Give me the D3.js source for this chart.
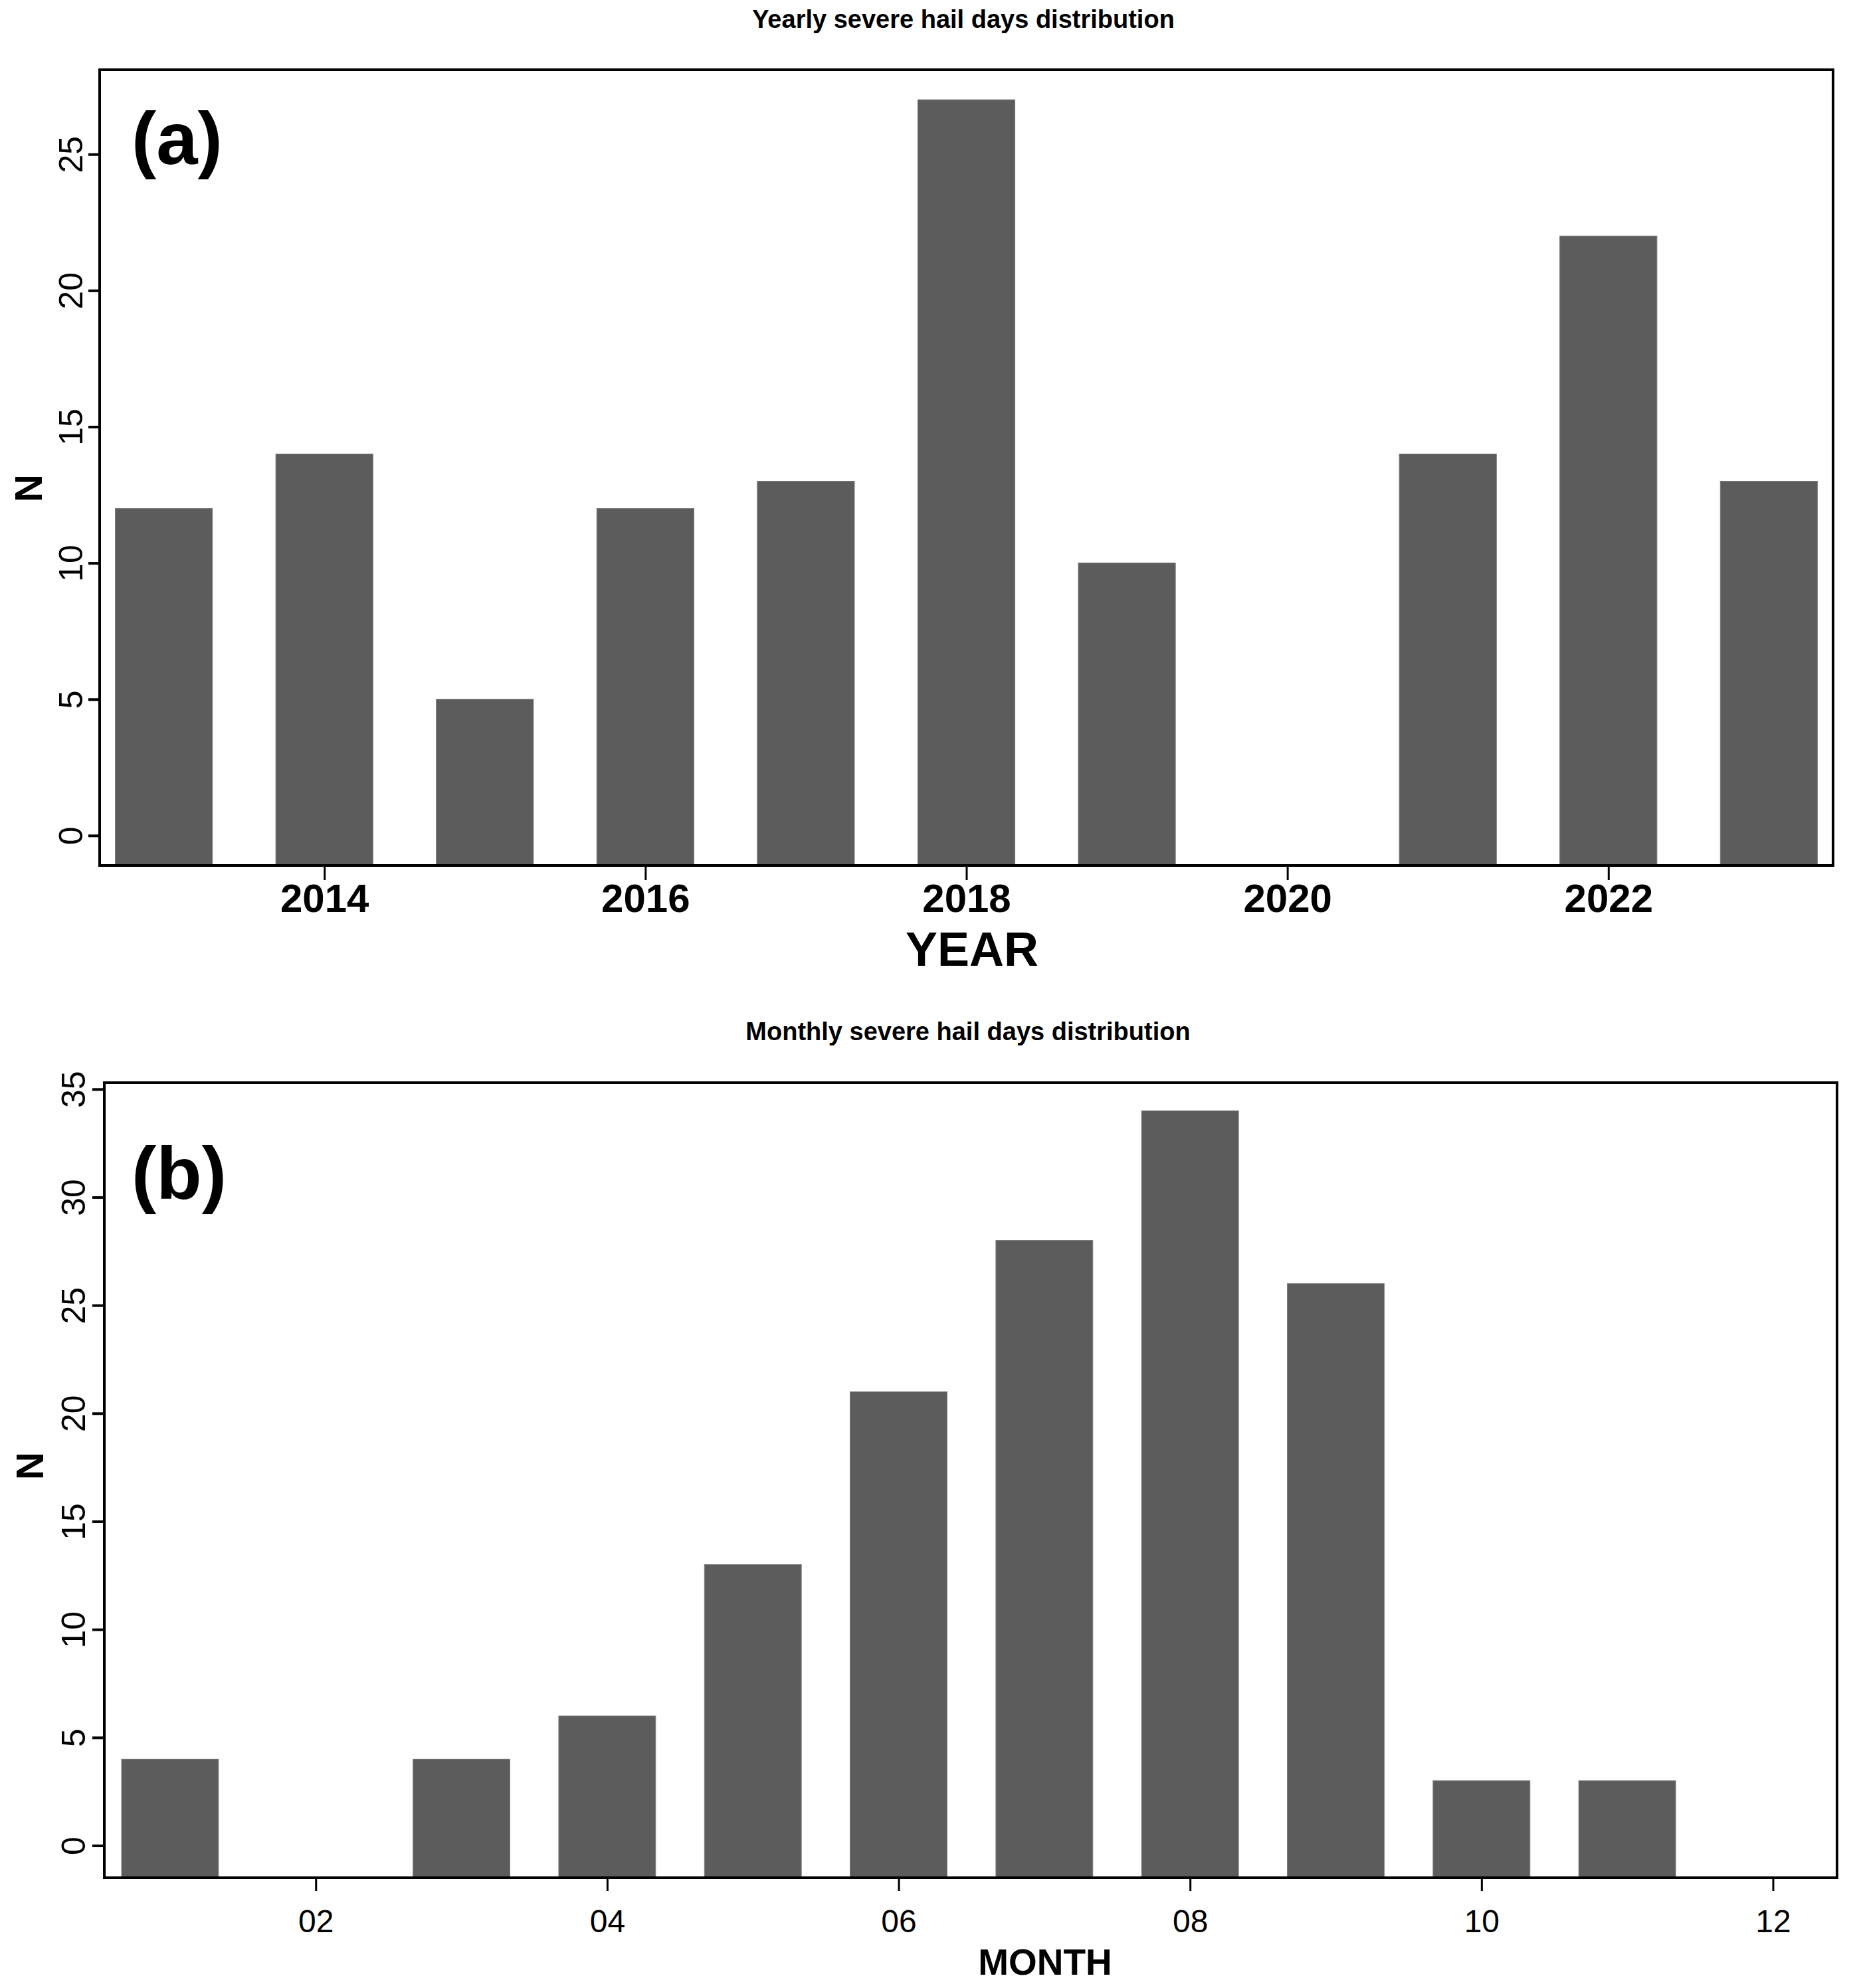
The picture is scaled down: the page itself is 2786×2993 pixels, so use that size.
<!DOCTYPE html>
<html>
<head>
<meta charset="utf-8">
<script src="https://cdn.jsdelivr.net/npm/d3@7"></script>
<style>
  body { margin: 0; background: #fff; }
  text { font-family: "Liberation Sans", Arial, sans-serif; }
</style>
</head>
<body>
<script>
// yearly counts
var years = [2013, 2014, 2015, 2016, 2017, 2018, 2019, 2020, 2021, 2022, 2023];
var yearCounts = [12, 14, 5, 12, 13, 27, 10, 0, 14, 22, 13];
var yearTicks = [2014, 2016, 2018, 2020, 2022];
var yearYTicks = [0, 5, 10, 15, 20, 25];

// monthly counts
var months = [1, 2, 3, 4, 5, 6, 7, 8, 9, 10, 11, 12];
var monthCounts = [4, 0, 4, 6, 13, 21, 28, 34, 26, 3, 3, 0];
var monthTicks = [2, 4, 6, 8, 10, 12];
var monthYTicks = [0, 5, 10, 15, 20, 25, 30, 35];

var svg = d3.select("body").append("svg")
    .attr("width", 2786)
    .attr("height", 2993);

var barColor = "#5c5c5c";

function panel(opt) {
    var g = svg.append("g");
    var x = d3.scaleLinear().domain(opt.xDomain).range([opt.left, opt.right]);
    var y = d3.scaleLinear().domain(opt.yDomain).range([opt.bottom, opt.top]);
    var data = opt.cats.map((c, i) => ({ cat: c, val: opt.vals[i] }));

    // bars (zero counts draw nothing, others run to the frame bottom)
    g.append("g")
        .selectAll("rect")
        .data(data.filter(d => d.val > 0))
        .join("rect")
        .attr("x", d => x(d.cat - opt.barW / 2))
        .attr("width", d => x(d.cat + opt.barW / 2) - x(d.cat - opt.barW / 2))
        .attr("y", d => y(d.val))
        .attr("height", d => opt.bottom - y(d.val))
        .attr("fill", barColor)
        .attr("stroke", "#7a7a7a")
        .attr("stroke-width", 1);

    // y axis
    var ya = g.append("g")
        .attr("transform", `translate(${opt.left},0)`)
        .call(d3.axisLeft(y).tickValues(opt.yTicks).tickSize(opt.yTickLen).tickFormat(d3.format("d")));
    ya.select(".domain").remove();
    ya.selectAll("line").attr("stroke", "#000").attr("stroke-width", 4);
    ya.selectAll("text")
        .attr("x", null).attr("dy", null)
        .attr("text-anchor", "middle")
        .attr("transform", `translate(${-opt.yLabelOff},0) rotate(-90)`)
        .attr("fill", "#000")
        .style("font-size", "50px");

    // x axis
    var xa = g.append("g")
        .attr("transform", `translate(0,${opt.bottom})`)
        .call(d3.axisBottom(x).tickValues(opt.xTicks).tickSize(opt.xTickLen).tickFormat(opt.xFormat));
    xa.select(".domain").remove();
    xa.selectAll("line").attr("stroke", "#000").attr("stroke-width", 3);
    xa.selectAll("text")
        .attr("y", opt.xLabelOff).attr("dy", null)
        .attr("fill", "#000")
        .style("font-size", opt.xFontSize + "px")
        .style("font-weight", opt.xBold ? "bold" : "normal");

    // frame
    g.append("rect")
        .attr("x", opt.left).attr("y", opt.top)
        .attr("width", opt.right - opt.left)
        .attr("height", opt.bottom - opt.top)
        .attr("fill", "none")
        .attr("stroke", "#000")
        .attr("stroke-width", 4);

    // title
    g.append("text")
        .attr("x", opt.titleX).attr("y", opt.titleY)
        .attr("text-anchor", "middle")
        .style("font-size", "38px").style("font-weight", "bold")
        .text(opt.title);

    // panel letter
    g.append("text")
        .attr("x", 198).attr("y", opt.letterY)
        .style("font-size", "112px").style("font-weight", "bold")
        .text(opt.letter);

    // axis titles
    g.append("text")
        .attr("transform", `translate(${opt.nX},${opt.nY}) rotate(-90)`)
        .attr("text-anchor", "middle")
        .style("font-size", "58px").style("font-weight", "bold")
        .text("N");
    g.append("text")
        .attr("x", opt.xTitleX).attr("y", opt.xTitleY)
        .attr("text-anchor", "middle")
        .style("font-size", opt.xTitleSize + "px").style("font-weight", "bold")
        .text(opt.xTitle);
}

panel({
    cats: years, vals: yearCounts, barW: 0.605,
    xDomain: [2012.6, 2023.4], yDomain: [-1.1, 28.1],
    left: 150, right: 2759, top: 105, bottom: 1303,
    yTicks: yearYTicks, yTickLen: 17, yLabelOff: 26,
    xTicks: yearTicks, xTickLen: 22, xLabelOff: 70, xFontSize: 60, xBold: true,
    xFormat: d3.format("d"),
    title: "Yearly severe hail days distribution", titleX: 1450, titleY: 42,
    letter: "(a)", letterY: 247,
    nX: 63, nY: 735,
    xTitle: "YEAR", xTitleX: 1463, xTitleY: 1454, xTitleSize: 72
});

panel({
    cats: months, vals: monthCounts, barW: 0.665,
    xDomain: [0.549, 12.44], yDomain: [-1.49, 35.3],
    left: 157, right: 2765, top: 1630, bottom: 2827,
    yTicks: monthYTicks, yTickLen: 18, yLabelOff: 29,
    xTicks: monthTicks, xTickLen: 20, xLabelOff: 82, xFontSize: 48, xBold: false,
    xFormat: d => String(d).padStart(2, "0"),
    title: "Monthly severe hail days distribution", titleX: 1457, titleY: 1566,
    letter: "(b)", letterY: 1805,
    nX: 65, nY: 2207,
    xTitle: "MONTH", xTitleX: 1573, xTitleY: 2973, xTitleSize: 55
});
</script>
</body>
</html>
